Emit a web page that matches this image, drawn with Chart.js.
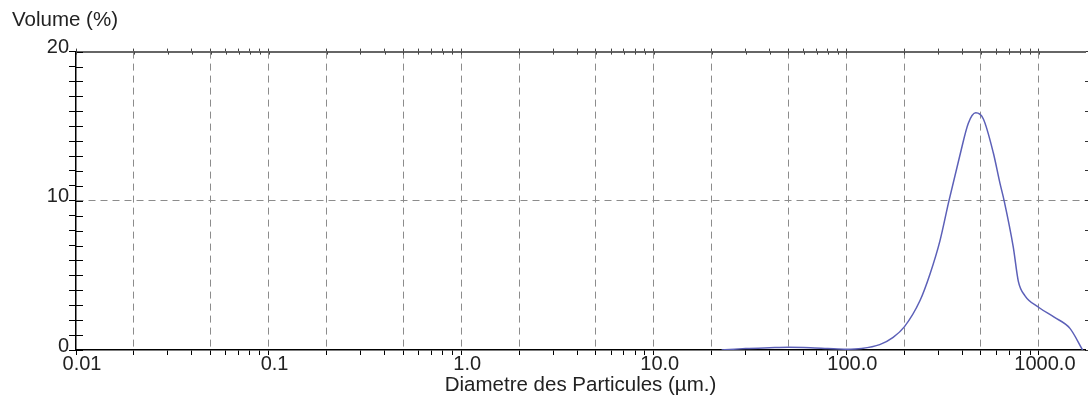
<!DOCTYPE html>
<html>
<head>
<meta charset="utf-8">
<script src="https://cdn.jsdelivr.net/npm/chart.js@4"></script>
<style>
html, body { margin: 0; padding: 0; background: #fff; }
#wrap { width: 1088px; height: 397px; }
</style>
</head>
<body>
<div id="wrap"><canvas id="myChart"></canvas></div>
<script>
// Données
var diametres = [22.5, 30, 40, 50, 65, 80, 100, 120, 149, 175, 200, 241, 272, 306, 341, 388, 430, 470, 514, 580, 627, 660, 736, 782, 845, 1000, 1200, 1449, 1686];
var volumes = [0, 0.1, 0.15, 0.18, 0.15, 0.1, 0.05, 0.1, 0.36, 0.85, 1.55, 3.3, 5.1, 7.3, 10, 13.0, 15.2, 15.9, 15.5, 13.2, 11.2, 10, 6.9, 4.6, 3.65, 2.85, 2.2, 1.45, 0];

var xGridValues = [0.02, 0.05, 0.1, 0.2, 0.5, 1, 2, 5, 10, 20, 50, 100, 200, 500, 1000];
var xLabelValues = [0.01, 0.1, 1, 10, 100, 1000];
var xLabels = ['0.01', '0.1', '1.0', '10.0', '100.0', '1000.0'];
var yLabels = [0, 10, 20];

var X_MIN = 0.01, X_MAX = 1735;
var police = 'Liberation Sans, Arial, sans-serif';

function near(list, v) {
    for (var i = 0; i < list.length; i++) {
        if (Math.abs(list[i] - v) / list[i] < 1e-6) return i;
    }
    return -1;
}

// graduations 1..9 x 10^n
function buildLogTicks(scale) {
    var t = [];
    for (var n = -2; n <= 3; n++) {
        for (var k = 1; k <= 9; k++) {
            var v = Number((k * Math.pow(10, n)).toPrecision(3));
            if (v >= X_MIN && v <= X_MAX) t.push({ value: v });
        }
    }
    scale.ticks = t;
}

// petites graduations vers l'intérieur
var innerTicks = {
    id: 'innerTicks',
    afterDraw: function(chart) {
        var c = chart.ctx, a = chart.chartArea;
        var y = chart.scales.y, x2 = chart.scales.x2;
        c.save();
        c.lineWidth = 1;
        c.strokeStyle = '#000';
        c.beginPath();
        y.ticks.forEach(function(t) {
            var p = Math.round(y.getPixelForValue(t.value)) + 0.5;
            c.moveTo(a.left, p);
            c.lineTo(a.left + 7, p);
        });
        c.stroke();
        c.strokeStyle = '#444';
        c.beginPath();
        x2.ticks.forEach(function(t) {
            var p = Math.round(x2.getPixelForValue(t.value)) + 0.5;
            c.moveTo(p, a.top);
            c.lineTo(p, a.top + 3);
        });
        c.stroke();
        c.restore();
    }
};

var ctx = document.getElementById('myChart').getContext('2d');
var chart = new Chart(ctx, {
    type: 'line',
    data: {
        datasets: [{
            data: diametres.map(function(d, i) { return { x: d, y: volumes[i] }; }),
            borderColor: 'rgb(92, 96, 184)',
            borderWidth: 1.5,
            pointRadius: 0,
            fill: false,
            cubicInterpolationMode: 'monotone'
        }]
    },
    options: {
        responsive: true,
        maintainAspectRatio: false,
        animation: false,
        layout: { padding: { left: 12, top: 0, right: 0, bottom: 0 } },
        plugins: {
            legend: { display: false },
            tooltip: { enabled: false },
            title: {
                display: true,
                text: 'Volume (%)',
                align: 'start',
                color: '#222',
                font: { family: police, size: 20.5, weight: 'normal', lineHeight: 1.2 },
                padding: { top: 8, bottom: 15 }
            }
        },
        scales: {
            x: {
                type: 'logarithmic',
                position: 'bottom',
                min: X_MIN,
                max: X_MAX,
                afterBuildTicks: buildLogTicks,
                afterFit: function(s) { s.height = 47; },
                grid: {
                    color: function(c) { return near(xGridValues, c.tick.value) >= 0 ? '#8c8c8c' : 'rgba(0,0,0,0)'; },
                    lineWidth: 1,
                    tickColor: '#000',
                    tickLength: 5
                },
                border: { color: '#000', width: 1.5, dash: [7, 5] },
                ticks: {
                    autoSkip: false,
                    maxRotation: 0,
                    padding: -3,
                    labelOffset: 6,
                    color: '#222',
                    font: { family: police, size: 20 },
                    callback: function(value) {
                        var i = near(xLabelValues, value);
                        return i >= 0 ? xLabels[i] : '';
                    }
                },
                title: {
                    display: true,
                    text: 'Diametre des Particules (µm.)',
                    color: '#222',
                    font: { family: police, size: 20.5 },
                    padding: { top: 0, bottom: -1 }
                }
            },
            x2: {
                type: 'logarithmic',
                position: 'top',
                min: X_MIN,
                max: X_MAX,
                afterBuildTicks: buildLogTicks,
                afterFit: function(s) { s.height = 4; },
                grid: { drawOnChartArea: false, tickColor: '#444', tickLength: 3 },
                border: { color: '#666', width: 2 },
                ticks: { display: false, autoSkip: false }
            },
            y: {
                position: 'left',
                min: 0,
                max: 20,
                afterFit: function(s) { s.width = 64; },
                grid: {
                    color: function(c) { return c.tick.value === 10 ? '#8c8c8c' : 'rgba(0,0,0,0)'; },
                    lineWidth: 1,
                    tickColor: '#000',
                    tickLength: 7
                },
                border: { color: '#000', width: 1.5, dash: [7, 5] },
                ticks: {
                    stepSize: 1,
                    autoSkip: false,
                    padding: 0,
                    labelOffset: -4,
                    color: '#222',
                    font: { family: police, size: 20 },
                    callback: function(value) { return yLabels.indexOf(value) >= 0 ? String(value) : ''; }
                }
            },
            y2: {
                position: 'right',
                min: 0,
                max: 20,
                afterFit: function(s) { s.width = 3; },
                grid: { drawOnChartArea: false, tickColor: '#333', tickLength: 3 },
                border: { display: false },
                ticks: { display: false, stepSize: 2, autoSkip: false }
            }
        }
    },
    plugins: [innerTicks]
});
</script>
</body>
</html>
